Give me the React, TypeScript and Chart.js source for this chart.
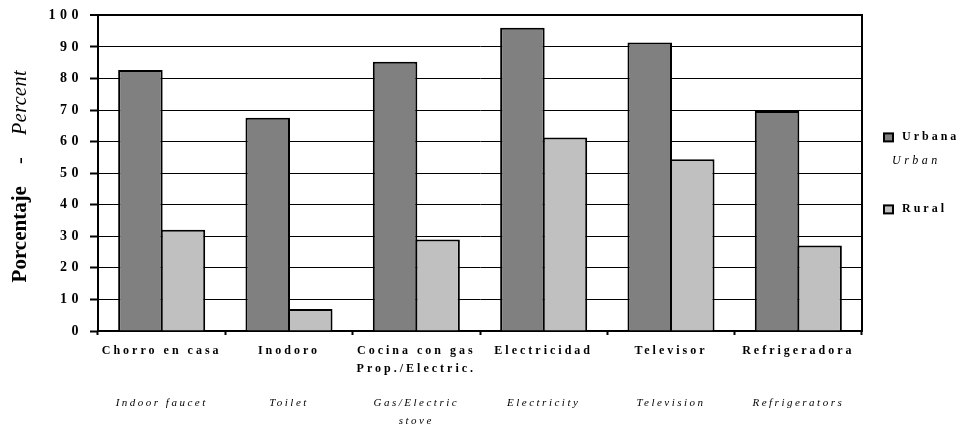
import React, { useEffect, useRef } from 'react';
import { Chart, registerables } from 'chart.js';

Chart.register(...registerables);

// ---- Data ----
const categoriesEs: (string | string[])[] = [
  'Chorro en casa',
  'Inodoro',
  ['Cocina con gas', 'Prop./Electric.'],
  'Electricidad',
  'Televisor',
  'Refrigeradora',
];
const categoriesEn: (string | string[])[] = [
  'Indoor faucet',
  'Toilet',
  ['Gas/Electric', 'stove'],
  'Electricity',
  'Television',
  'Refrigerators',
];
const urbanValues = [82.7, 67.6, 85.3, 96.1, 91.4, 69.7];
const ruralValues = [32.1, 7, 29, 61.3, 54.4, 27.1];
const seriesLabels = ['Urbana', 'Rural'];
const seriesLabelsEn = ['Urban', ''];
const yMin = 0;
const yMax = 100;
const yStep = 10;
const yTitleEs = 'Porcentaje';
const yTitleSep = '-';
const yTitleEn = 'Percent';

const FONT = "'Liberation Serif', 'Times New Roman', serif";
const URBAN_COLOR = '#808080';
const RURAL_COLOR = '#c0c0c0';

function spacingFor(font: string): string {
  const m = /(\d+(?:\.\d+)?)px/.exec(font);
  const size = m ? parseFloat(m[1]) : 0;
  const bold = /bold|700/.test(font);
  const italic = /italic/.test(font);
  if (bold && size === 14) return '4.5px';
  if (bold && size === 12) return '3px';
  if (italic && size === 11) return '2.5px';
  if (italic && size === 12) return '3.5px';
  if (italic && size === 20) return '0.5px';
  return '0px';
}

function patchContext(ctx: CanvasRenderingContext2D) {
  const anyCtx = ctx as any;
  if (anyCtx.__patched) return;
  anyCtx.__patched = true;
  const origFill = ctx.fillText.bind(ctx);
  const origMeasure = ctx.measureText.bind(ctx);
  const apply = () => {
    anyCtx.letterSpacing = spacingFor(ctx.font);
  };
  anyCtx.fillText = (t: string, x: number, y: number, w?: number) => {
    apply();
    if (w === undefined || w === null) return origFill(t, x, y);
    return origFill(t, x, y, w);
  };
  anyCtx.measureText = (t: string) => {
    apply();
    return origMeasure(t);
  };
}

const sideLegend = {
  id: 'sideLegend',
  afterDraw(chart: any) {
    const { ctx, chartArea } = chart;
    const datasets = chart.data.datasets;
    const x0 = chartArea.right + 22;
    const rowY = [chartArea.top + 122, chartArea.top + 194];
    ctx.save();
    datasets.forEach((ds: any, i: number) => {
      const y = rowY[i];
      ctx.fillStyle = ds.backgroundColor;
      ctx.fillRect(x0, y - 4, 9, 8);
      ctx.strokeStyle = '#000';
      ctx.lineWidth = 2;
      ctx.strokeRect(x0, y - 4, 9, 8);
      ctx.fillStyle = '#000';
      ctx.textBaseline = 'middle';
      ctx.textAlign = 'left';
      ctx.font = `bold 12px ${FONT}`;
      ctx.fillText(ds.label, x0 + 18, y);
      const en = seriesLabelsEn[i];
      if (en) {
        ctx.font = `italic 12px ${FONT}`;
        ctx.fillText(en, x0 + 8, y + 23);
      }
    });
    ctx.restore();
  },
};

const yTitlePlugin = {
  id: 'yTitle',
  afterDraw(chart: any) {
    const { ctx, chartArea } = chart;
    const parts = [
      { text: yTitleEs, font: `bold 21px ${FONT}`, gap: 22 },
      { text: yTitleSep, font: `italic 20px ${FONT}`, gap: 22 },
      { text: yTitleEn, font: `italic 20px ${FONT}`, gap: 0 },
    ];
    ctx.save();
    let total = 0;
    const widths = parts.map((p) => {
      ctx.font = p.font;
      const w = ctx.measureText(p.text).width;
      total += w + p.gap;
      return w;
    });
    const cy = (chartArea.top + chartArea.bottom) / 2 + 3;
    ctx.translate(21, cy);
    ctx.rotate(-Math.PI / 2);
    ctx.fillStyle = '#000';
    ctx.textBaseline = 'middle';
    ctx.textAlign = 'left';
    let x = -total / 2;
    parts.forEach((p, i) => {
      ctx.font = p.font;
      ctx.fillText(p.text, x, 0);
      x += widths[i] + p.gap;
    });
    ctx.restore();
  },
};

export default function App() {
  const ref = useRef<HTMLCanvasElement | null>(null);

  useEffect(() => {
    const canvas = ref.current;
    if (!canvas) return;
    const ctx = canvas.getContext('2d');
    if (!ctx) return;
    patchContext(ctx);

    const chart = new Chart(ctx, {
      type: 'bar',
      data: {
        labels: categoriesEs as any,
        datasets: [
          {
            label: seriesLabels[0],
            data: urbanValues,
            backgroundColor: URBAN_COLOR,
            borderColor: '#000',
            borderWidth: 2,
            categoryPercentage: 0.668,
            barPercentage: 1.047,
          },
          {
            label: seriesLabels[1],
            data: ruralValues,
            backgroundColor: RURAL_COLOR,
            borderColor: '#000',
            borderWidth: 2,
            categoryPercentage: 0.668,
            barPercentage: 1.047,
          },
        ],
      },
      options: {
        animation: false,
        responsive: true,
        maintainAspectRatio: false,
        layout: { padding: { top: 15, right: 101, left: 0, bottom: 0 } },
        plugins: {
          legend: { display: false },
          tooltip: { enabled: false },
          title: { display: false },
        },
        scales: {
          x: {
            type: 'category',
            position: 'bottom',
            offset: true,
            grid: {
              offset: true,
              drawOnChartArea: false,
              drawTicks: true,
              tickLength: 4,
              tickColor: '#000',
              tickWidth: 2,
              color: '#000',
            },
            border: { display: true, color: '#000', width: 2 },
            ticks: {
              color: '#000',
              font: { family: FONT, size: 12, weight: 'bold', lineHeight: '18px' } as any,
              padding: 7,
              autoSkip: false,
              maxRotation: 0,
              minRotation: 0,
            },
            afterFit: (s: any) => {
              s.height = 50;
            },
          },
          xEn: {
            type: 'category',
            axis: 'x',
            position: 'bottom',
            offset: true,
            labels: categoriesEn as any,
            grid: { display: false, drawTicks: false, drawOnChartArea: false },
            border: { display: false },
            ticks: {
              color: '#000',
              font: { family: FONT, size: 11, style: 'italic', lineHeight: '18px' } as any,
              padding: 13,
              autoSkip: false,
              maxRotation: 0,
              minRotation: 0,
            },
            afterFit: (s: any) => {
              s.height = 46;
            },
          } as any,
          y: {
            type: 'linear',
            position: 'left',
            min: yMin,
            max: yMax,
            ticks: {
              stepSize: yStep,
              color: '#000',
              padding: 7,
              font: { family: FONT, size: 14, weight: 'bold' },
            },
            grid: {
              color: '#000',
              lineWidth: (c: any) => (c.tick && c.tick.value === yMax ? 2 : 1),
              drawTicks: true,
              tickLength: 8,
              tickWidth: 2,
              tickColor: '#000',
            },
            border: { display: true, color: '#000', width: 2 },
            afterFit: (s: any) => {
              s.width = 98;
            },
          },
          yR: {
            type: 'linear',
            axis: 'y',
            position: 'right',
            display: true,
            ticks: { display: false },
            grid: { display: false, drawTicks: false },
            border: { display: true, color: '#000', width: 2 },
            afterFit: (s: any) => {
              s.width = 0;
            },
          } as any,
        },
      },
      plugins: [sideLegend, yTitlePlugin],
    });

    return () => {
      chart.destroy();
    };
  }, []);

  return (
    <div style={{ position: 'fixed', left: 0, top: 0, width: 963, height: 427, background: '#fff' }}>
      <canvas ref={ref} />
    </div>
  );
}
